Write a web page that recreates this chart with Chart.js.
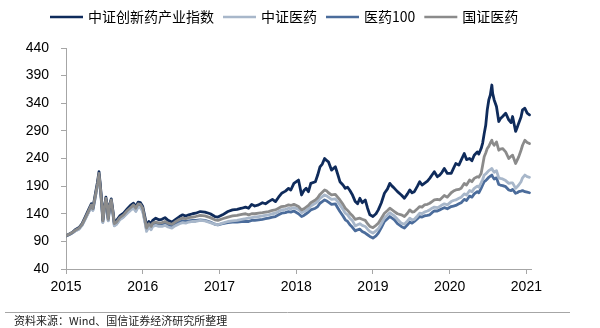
<!DOCTYPE html>
<html>
<head>
<meta charset="utf-8">
<script src="https://cdn.jsdelivr.net/npm/chart.js@4.4.1/dist/chart.umd.min.js"></script>
<style>
  html, body { margin: 0; padding: 0; background: #fff; }
  #wrap { width: 600px; height: 328px; position: relative; }
</style>
</head>
<body>
<div id="wrap"><canvas id="chart" width="600" height="328"></canvas></div>
<script>
// Index levels (base 100 at the start of 2015), sampled along the trading calendar.
const seriesNames = ['中证创新药产业指数', '中证医药', '医药100', '国证医药'];

// Sample dates as fractional years
const dateYears = [
  2015.00,2015.04,2015.08,2015.12,2015.17,2015.21,2015.25,2015.29,2015.33,2015.35,
  2015.38,2015.41,2015.43,2015.45,2015.47,2015.48,2015.50,2015.52,2015.54,2015.55,
  2015.57,2015.59,2015.61,2015.63,2015.66,2015.70,2015.75,2015.80,2015.84,2015.88,
  2015.91,2015.94,2015.97,2016.00,2016.03,2016.05,2016.08,2016.11,2016.13,2016.17,
  2016.21,2016.25,2016.29,2016.33,2016.38,2016.42,2016.48,2016.52,2016.56,2016.60,
  2016.65,2016.69,2016.75,2016.81,2016.88,2016.94,2016.98,2017.04,2017.11,2017.17,
  2017.23,2017.29,2017.34,2017.38,2017.42,2017.46,2017.51,2017.56,2017.60,2017.64,
  2017.69,2017.73,2017.77,2017.81,2017.86,2017.90,2017.93,2017.97,2018.03,2018.07,
  2018.10,2018.13,2018.16,2018.19,2018.25,2018.28,2018.31,2018.34,2018.37,2018.40,
  2018.42,2018.46,2018.51,2018.54,2018.57,2018.61,2018.64,2018.67,2018.70,2018.73,
  2018.77,2018.80,2018.83,2018.86,2018.90,2018.93,2018.96,2019.00,2019.04,2019.07,
  2019.11,2019.15,2019.19,2019.22,2019.25,2019.28,2019.32,2019.37,2019.41,2019.45,
  2019.48,2019.51,2019.54,2019.58,2019.61,2019.64,2019.67,2019.71,2019.74,2019.77,
  2019.80,2019.84,2019.87,2019.90,2019.93,2019.97,2020.02,2020.05,2020.08,2020.12,
  2020.15,2020.19,2020.22,2020.26,2020.29,2020.32,2020.36,2020.38,2020.41,2020.43,
  2020.45,2020.47,2020.49,2020.51,2020.53,2020.55,2020.56,2020.58,2020.61,2020.64,
  2020.66,2020.69,2020.73,2020.77,2020.80,2020.82,2020.86,2020.88,2020.90,2020.93,
  2020.95,2020.98,2021.01,2021.04
];

// 中证创新药产业指数
const innovativeDrug = [
  100,103,106,111,115,122,134,146,158,150,
  174,197,216,188,152,129,152,170,152,132,
  157,167,147,124,128,136,141,149,155,159,
  153,161,160,153,133,118,126,122,128,132,
  129,130,133,128,125,129,135,138,136,138,
  140,141,144,143,140,135,134,138,144,147,
  148,150,152,150,157,154,156,160,158,162,
  166,162,170,177,181,186,183,195,201,174,
  182,186,180,195,198,210,225,230,240,236,
  234,219,225,212,198,192,186,188,182,175,
  162,158,168,160,165,150,138,135,140,147,
  160,177,185,195,190,186,180,174,168,176,
  183,178,180,190,198,192,195,199,204,210,
  216,207,210,215,222,213,213,222,231,228,
  237,249,238,240,236,246,252,248,258,268,
  285,300,328,346,355,373,358,346,334,307,
  312,316,322,310,305,316,289,296,304,315,
  328,331,322,319
];

// 中证医药
const csiPharma = [
  100,102,105,109,112,119,130,141,153,146,
  168,191,210,182,147,124,146,164,146,127,
  151,161,141,118,121,129,134,141,146,150,
  144,152,151,144,124,108,116,111,117,119,
  117,117,119,116,114,118,122,124,123,125,
  126,126,128,127,124,121,120,123,126,127,
  128,130,131,132,133,134,135,136,137,138,
  140,141,144,147,148,150,149,151,148,142,
  144,146,149,154,159,162,168,171,174,172,
  170,166,167,162,156,148,141,138,132,128,
  118,120,122,119,117,112,108,105,109,113,
  122,132,138,142,139,136,130,123,121,127,
  132,129,130,136,141,140,143,145,147,150,
  152,151,153,156,158,156,162,164,165,168,
  170,176,174,182,180,186,190,188,196,202,
  210,212,215,218,220,222,219,215,218,205,
  204,203,200,195,196,196,186,189,192,198,
  205,210,207,206
];

// 医药100
const pharma100 = [
  100,102,105,109,113,120,131,142,154,147,
  169,192,211,183,148,125,148,166,148,128,
  152,162,142,119,122,130,135,143,148,152,
  146,154,153,146,126,111,119,114,120,122,
  120,120,122,119,117,121,125,127,126,127,
  128,128,129,128,125,121,120,122,124,125,
  125,126,126,126,128,128,129,130,131,132,
  134,135,138,141,142,144,143,145,140,135,
  137,140,143,147,150,153,159,162,165,163,
  161,157,158,151,144,136,129,126,120,116,
  109,111,112,108,105,102,99,96,100,105,
  115,126,131,135,132,129,122,117,114,120,
  125,123,126,131,135,134,136,137,138,142,
  145,145,147,149,151,149,153,154,155,158,
  160,166,164,172,170,176,180,178,186,192,
  198,200,203,206,208,210,207,203,205,193,
  192,191,189,183,182,184,177,178,180,181,
  182,180,179,178
];

// 国证医药
const cnPharma = [
  100,103,106,110,114,121,132,144,156,149,
  171,194,213,185,150,127,150,168,150,130,
  155,165,145,122,125,133,138,146,151,156,
  150,158,157,150,129,114,122,117,123,125,
  123,124,126,123,121,125,130,132,131,133,
  134,135,137,136,133,129,128,131,134,136,
  137,139,140,138,140,140,141,142,143,144,
  146,147,150,153,154,156,155,157,153,147,
  149,152,155,160,165,169,175,179,183,181,
  178,174,175,170,165,157,150,146,141,137,
  130,131,132,130,128,122,117,115,119,123,
  132,141,146,150,147,144,140,138,135,141,
  147,143,144,149,153,152,156,157,159,162,
  165,166,165,169,173,170,178,181,183,184,
  186,195,192,201,198,204,207,206,213,228,
  243,250,258,262,268,273,268,264,270,255,
  257,258,252,240,244,246,231,237,243,255,
  264,273,269,267
];

const yTicks = [40, 90, 140, 190, 240, 290, 340, 390, 440];
const yearTicks = [2015, 2016, 2017, 2018, 2019, 2020, 2021];
const yearLabels = ['2015', '2016', '2017', '2018', '2019', '2020', '2021'];
const sourceNote = '资料来源：Wind、国信证券经济研究所整理';

const lineColors = ['#0f2b5b', '#a8b7ca', '#4b6c9b', '#8b8b8b'];
const seriesValues = [innovativeDrug, csiPharma, pharma100, cnPharma];
const drawOrder = [1, 2, 3, 0];

const axisColor = '#a6a6a6';
const latinFont = '"Liberation Sans", Arial, sans-serif';
const cjkFont = '"Noto Sans CJK SC", "Noto Sans", sans-serif';

const datasets = seriesNames.map((name, k) => ({
  label: name,
  data: dateYears.map((x, i) => ({ x: x, y: seriesValues[k][i] })),
  borderColor: lineColors[k],
  backgroundColor: lineColors[k],
  borderWidth: 2.8,
  borderJoinStyle: 'round',
  borderCapStyle: 'round',
  pointRadius: 0,
  tension: 0,
  fill: false,
  order: drawOrder[k]
}));

// Legend row across the top, plus separator rule and source line at the bottom
const legendAndNote = {
  id: 'legendAndNote',
  afterDraw(chart) {
    const ctx = chart.ctx;
    ctx.save();
    ctx.font = '14px ' + cjkFont;
    ctx.textBaseline = 'middle';
    ctx.textAlign = 'left';
    let x = 50;
    const y = 17;
    chart.data.datasets.forEach(ds => {
      ctx.strokeStyle = ds.borderColor;
      ctx.lineWidth = 2.6;
      ctx.beginPath();
      ctx.moveTo(x, y);
      ctx.lineTo(x + 33, y);
      ctx.stroke();
      x += 38;
      ctx.fillStyle = '#000';
      ctx.fillText(ds.label, x, y);
      x += ctx.measureText(ds.label).width + 9;
    });

    ctx.strokeStyle = axisColor;
    ctx.lineWidth = 1;
    ctx.beginPath();
    ctx.moveTo(5, 312.5);
    ctx.lineTo(570, 312.5);
    ctx.stroke();

    ctx.font = '11px ' + cjkFont;
    ctx.fillStyle = '#222';
    ctx.fillText(sourceNote, 14, 321);
    ctx.restore();
  }
};

new Chart(document.getElementById('chart'), {
  type: 'line',
  data: { datasets: datasets },
  plugins: [legendAndNote],
  options: {
    responsive: false,
    animation: false,
    devicePixelRatio: 1,
    layout: { padding: { left: 0, right: 69, top: 48, bottom: 29 } },
    plugins: { legend: { display: false }, tooltip: { enabled: false } },
    scales: {
      x: {
        type: 'linear',
        min: 2015,
        max: 2021.06,
        afterBuildTicks: s => { s.ticks = yearTicks.map(v => ({ value: v })); },
        afterFit: s => { s.height = 30; },
        grid: { drawOnChartArea: false, drawTicks: true, tickLength: 5, color: axisColor },
        border: { display: true, color: axisColor, width: 1 },
        ticks: {
          autoSkip: false,
          maxRotation: 0,
          padding: 5,
          color: '#000',
          font: { family: latinFont, size: 14 },
          callback: v => yearLabels[yearTicks.indexOf(v)]
        }
      },
      y: {
        type: 'linear',
        min: 40,
        max: 440,
        afterBuildTicks: s => { s.ticks = yTicks.map(v => ({ value: v })); },
        afterFit: s => { s.width = 66; },
        grid: { drawOnChartArea: false, drawTicks: true, tickLength: 5, color: axisColor },
        border: { display: true, color: axisColor, width: 1 },
        ticks: {
          padding: 12,
          color: '#000',
          font: { family: latinFont, size: 14 },
          callback: v => String(v)
        }
      }
    }
  }
});
</script>
</body>
</html>
